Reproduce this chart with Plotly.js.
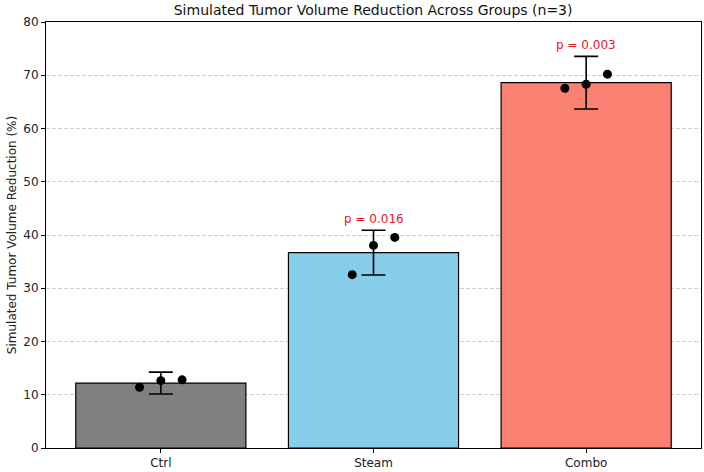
<!DOCTYPE html>
<html>
<head>
<meta charset="utf-8">
<script src="https://cdn.plot.ly/plotly-3.0.1.min.js"></script>
<style>html,body{margin:0;padding:0;background:#fff}#chart{width:704px;height:472px}</style>
</head>
<body>
<div id="chart"></div>
<script>
const categories = ["Ctrl", "Steam", "Combo"];
const means = [12.2, 36.7, 68.6];
const sds = [2.05, 4.2, 4.95];
const replicates = [
  [11.4, 12.65, 12.8],
  [32.55, 38.05, 39.55],
  [67.55, 68.3, 70.2]
];
const jitter = [-0.1, 0.0, 0.1];
const pLabels = ["", "p = 0.016", "p = 0.003"];
const barColors = ["#808080", "#87CEEB", "#FA8072"];
const yTicks = [0, 10, 20, 30, 40, 50, 60, 70, 80];

const xs = categories.map((c, i) => i);
const traces = [{
  type: "bar",
  x: xs,
  y: means,
  width: 0.8,
  marker: {color: barColors, line: {color: "#000", width: 1.2}},
  error_y: {type: "data", array: sds, visible: true, color: "#000", thickness: 1.6, width: 12},
  hoverinfo: "none"
}];
const px = [], py = [];
replicates.forEach((vals, i) => vals.forEach((v, j) => { px.push(i + jitter[j]); py.push(v); }));
traces.push({
  type: "scatter", mode: "markers", x: px, y: py,
  marker: {color: "#000", size: 9}, hoverinfo: "none"
});

const annotations = [];
pLabels.forEach((t, i) => {
  if (!t) return;
  annotations.push({
    x: i, y: means[i] + sds[i] + 0.4, xref: "x", yref: "y",
    text: t, showarrow: false, yanchor: "bottom",
    font: {family: "DejaVu Sans", size: 12, color: "#e8161e"}
  });
});

const layout = {
  width: 704, height: 472,
  margin: {l: 46, r: 3, t: 22, b: 24},
  paper_bgcolor: "#fff", plot_bgcolor: "#fff",
  showlegend: false,
  font: {family: "DejaVu Sans", color: "#222", size: 12},
  title: {text: "Simulated Tumor Volume Reduction Across Groups (n=3)", x: 0.53, xanchor: "center", y: 0.978, yanchor: "middle",
          font: {family: "DejaVu Sans", size: 14, color: "#111"}},
  xaxis: {
    range: [-0.54, 2.54], tickvals: xs, ticktext: categories,
    showgrid: false, zeroline: false,
    showline: true, mirror: true, linecolor: "#000", linewidth: 1,
    ticks: "outside", ticklen: 4, tickcolor: "#000",
    tickfont: {family: "DejaVu Sans", size: 12, color: "#222"}
  },
  yaxis: {
    range: [0, 80], tickvals: yTicks,
    showgrid: true, gridcolor: "#cfcfcf", griddash: "4px,2px", gridwidth: 1,
    zeroline: false,
    showline: true, mirror: true, linecolor: "#000", linewidth: 1,
    ticks: "outside", ticklen: 4, tickcolor: "#000",
    tickfont: {family: "DejaVu Sans", size: 12, color: "#222"},
    title: {text: "Simulated Tumor Volume Reduction (%)", standoff: 4,
            font: {family: "DejaVu Sans", size: 12, color: "#222"}}
  },
  annotations: annotations
};
Plotly.newPlot("chart", traces, layout, {displayModeBar: false, staticPlot: true});
</script>
</body>
</html>
